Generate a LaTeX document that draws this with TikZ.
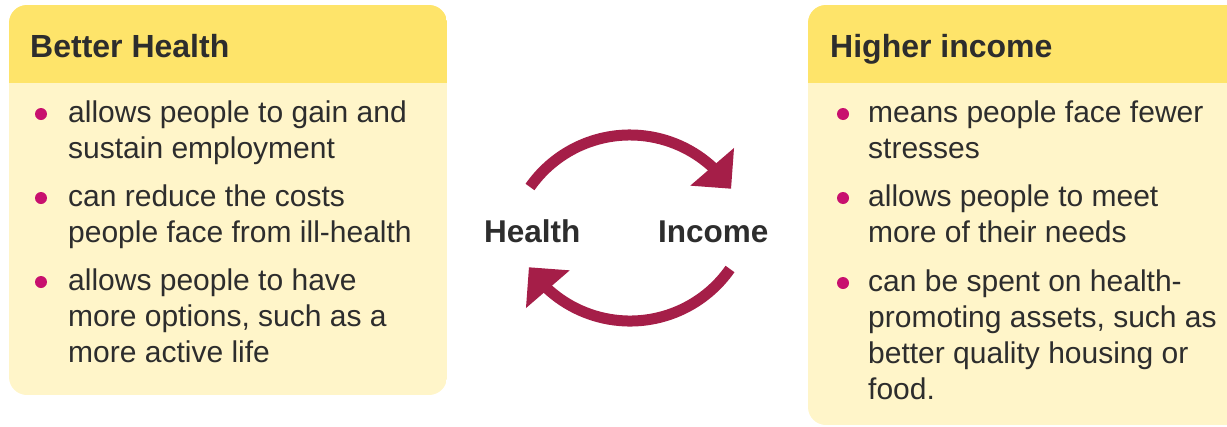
\documentclass[tikz,border=0pt]{standalone}
\usepackage{fontspec}
\setmainfont{Liberation Sans}
\usepackage{xcolor}
\usepackage{tikz}
\usetikzlibrary{arrows.meta,bending,positioning}
\definecolor{headyellow}{RGB}{254,228,106}
\definecolor{bodyyellow}{RGB}{255,245,201}
\definecolor{dotpink}{RGB}{200,16,110}
\definecolor{loopred}{RGB}{165,30,72}
\definecolor{inkgray}{RGB}{45,45,45}

\begin{document}
\begin{tikzpicture}[
    x=1pt, y=-1pt,
    headtext/.style={anchor=base west, inner sep=0pt, font=\fontsize{32}{36}\selectfont\bfseries, text=inkgray},
    itemtext/.style={anchor=north west, inner sep=0pt, align=left, font=\fontsize{30}{36}\selectfont, text=inkgray,
        execute at begin node=\rule{0pt}{24pt}},
    dot/.style={circle, fill=dotpink, inner sep=0pt, minimum size=12pt},
    looplabel/.style={anchor=base west, inner sep=0pt, font=\fontsize{31.5}{36}\selectfont\bfseries, text=inkgray},
    cyclearrow/.style={draw=loopred, line width=11pt, -{Triangle[width=56pt, length=29pt, flex]}}
]
\useasboundingbox (0,0) rectangle (1227,426);
\clip (0,0) rectangle (1227,426);

% Boxes
\begin{scope}
  \clip[rounded corners=18pt] (9,5) rectangle (447,395);
  \fill[bodyyellow] (9,5) rectangle (447,395);
  \fill[headyellow] (9,5) rectangle (447,83);
\end{scope}
\begin{scope}
  \clip[rounded corners=18pt] (808,5) rectangle (1250,425);
  \fill[bodyyellow] (808,5) rectangle (1250,425);
  \fill[headyellow] (808,5) rectangle (1250,83);
\end{scope}

% Left box
\node[headtext] (healthhead) at (30,57) {Better Health};
\node[dot] (ldot1) at (41,114) {};
\node[itemtext] (litem1) at (68,101) {allows people to gain and\\sustain employment};
\node[dot] (ldot2) at (41,198) {};
\node[itemtext] (litem2) at (68,185) {can reduce the costs\\people face from ill-health};
\node[dot] (ldot3) at (41,282) {};
\node[itemtext] (litem3) at (68,269) {allows people to have\\more options, such as a\\more active life};

% Right box
\node[headtext] (incomehead) at (830,57) {Higher income};
\node[dot] (rdot1) at (843,114) {};
\node[itemtext] (ritem1) at (868,101) {means people face fewer\\stresses};
\node[dot] (rdot2) at (843,198) {};
\node[itemtext] (ritem2) at (868,185) {allows people to meet\\more of their needs};
\node[dot] (rdot3) at (843,283) {};
\node[itemtext] (ritem3) at (868,270) {can be spent on health-\\promoting assets, such as\\better quality housing or\\food.};

% Loop
\node[looplabel] (health) at (484,242) {Health};
\node[looplabel] (income) at (658,242) {Income};
\coordinate (topstart) at (530,187);
\coordinate (botstart) at (730,269);
\draw[cyclearrow] (topstart) arc[start angle=-145, end angle=-34, radius=122];
\draw[cyclearrow] (botstart) arc[start angle=35, end angle=146, radius=122];
\end{tikzpicture}
\end{document}
